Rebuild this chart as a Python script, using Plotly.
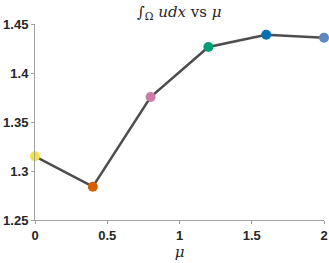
import plotly.graph_objects as go

mu = [0, 0.4, 0.8, 1.2, 1.6, 2.0]
integral = [1.315, 1.284, 1.3755, 1.4265, 1.439, 1.436]
colors = ["#F0E442", "#D55E00", "#CC79A7", "#009E73", "#0072B2", "#5F87C4"]
xticks = [0, 0.5, 1, 1.5, 2]
xticklabels = ["0", "0.5", "1", "1.5", "2"]
yticks = [1.25, 1.3, 1.35, 1.4, 1.45]
yticklabels = ["1.25", "1.3", "1.35", "1.4", "1.45"]

fig = go.Figure()
fig.add_trace(go.Scatter(x=mu, y=integral, mode="lines",
                         line=dict(color="#4D4D4D", width=2.5),
                         hoverinfo="skip", showlegend=False, cliponaxis=False))
fig.add_trace(go.Scatter(x=mu, y=integral, mode="markers",
                         marker=dict(color=colors, size=10, line=dict(width=0)),
                         showlegend=False, cliponaxis=False))

axis_common = dict(showgrid=False, zeroline=False, showline=True,
                   linecolor="#A0A0A0", linewidth=1, ticks="outside",
                   ticklen=3, tickcolor="#A0A0A0", automargin=False,
                   tickfont=dict(family="Liberation Sans", size=13, color="#262626", weight="bold"))

fig.update_xaxes(range=[0, 2], tickvals=xticks, ticktext=xticklabels,
                 title=dict(text="<i>μ</i>", font=dict(family="DejaVu Serif", size=15, color="#262626"), standoff=4),
                 **axis_common)
fig.update_yaxes(range=[1.25, 1.45], tickvals=yticks, ticktext=yticklabels,
                 **axis_common)

fig.update_layout(
    width=329, height=263,
    margin=dict(l=35, r=5, t=24, b=43, autoexpand=False),
    plot_bgcolor="white", paper_bgcolor="white",
    title=dict(text="∫<sub>Ω</sub> <i>udx</i> vs <i>μ</i>", x=0.545, xanchor="center",
               y=0.955, yanchor="middle",
               font=dict(family="DejaVu Serif", size=15, color="#262626")),
)

fig.write_html("out.html", config={"displayModeBar": False},
               post_script="document.body.style.margin='0';document.body.style.overflow='hidden';")
